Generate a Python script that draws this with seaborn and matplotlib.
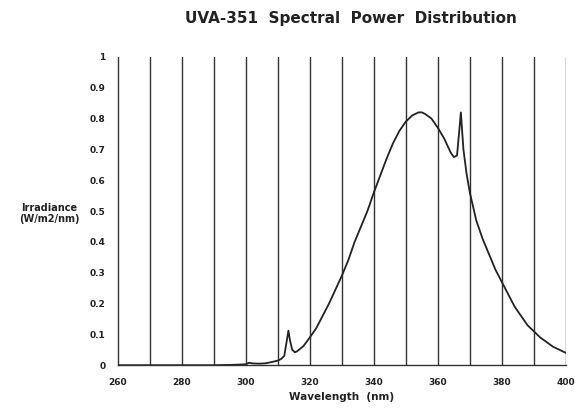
import numpy as np
import pandas as pd
import seaborn as sns
import matplotlib.pyplot as plt

# spectral data
wavelength = [260, 270, 280, 290, 295, 298, 300, 301, 302, 304, 306, 308, 310, 311, 312,
              312.8, 313.3, 313.8, 314.5, 315.3, 316, 318, 320, 322, 324, 326, 328, 330,
              332, 334, 336, 338, 340, 342, 344, 346, 348, 350, 352, 354, 355, 356, 358,
              360, 362, 364, 365, 366, 366.7, 367.2, 367.6, 368, 369, 370, 372, 374, 376,
              378, 380, 382, 384, 386, 388, 390, 392, 394, 396, 398, 400]
irradiance = [0, 0, 0, 0, 0.001, 0.002, 0.003, 0.008, 0.006, 0.005, 0.006, 0.01, 0.015, 0.02, 0.03,
              0.08, 0.112, 0.08, 0.05, 0.042, 0.045, 0.062, 0.09, 0.12, 0.16, 0.20, 0.245, 0.29,
              0.34, 0.40, 0.45, 0.50, 0.56, 0.615, 0.67, 0.72, 0.76, 0.79, 0.81, 0.82, 0.82, 0.815, 0.80,
              0.77, 0.735, 0.69, 0.675, 0.68, 0.76, 0.82, 0.76, 0.70, 0.62, 0.56, 0.47, 0.41, 0.36,
              0.31, 0.27, 0.23, 0.19, 0.16, 0.13, 0.11, 0.09, 0.075, 0.06, 0.05, 0.04]

x_ticks = [260, 280, 300, 320, 340, 360, 380, 400]
y_ticks = [0, 0.1, 0.2, 0.3, 0.4, 0.5, 0.6, 0.7, 0.8, 0.9, 1]
y_labels = ['0', '0.1', '0.2', '0.3', '0.4', '0.5', '0.6', '0.7', '0.8', '0.9', '1']

df = pd.DataFrame({'wavelength': wavelength, 'irradiance': irradiance})

sns.set_style('white')
plt.rcParams['font.family'] = ['DejaVu Sans']

fig = plt.figure(figsize=(5.75, 4.15), dpi=100)
ax = fig.add_axes([0.205, 0.12, 0.779, 0.743])

# vertical grid lines every 10 nm
for g in range(270, 401, 10):
    ax.axvline(g, color='#333333', lw=1.0, zorder=1)

sns.lineplot(data=df, x='wavelength', y='irradiance', ax=ax, color='#222222', lw=1.3, zorder=3)

ax.set_xlim(260, 400)
ax.set_ylim(0, 1)
ax.set_xticks(x_ticks)
ax.set_xticks(range(260, 401, 10), minor=True)
ax.set_yticks(y_ticks)
ax.set_yticklabels(y_labels)
ax.tick_params(axis='both', which='both', direction='out', length=4, width=0.8,
               color='#333333', labelsize=6.5, labelcolor='#222222')
ax.tick_params(axis='x', which='both', direction='inout', length=7, pad=6)
ax.tick_params(axis='y', pad=5)
for lab in ax.get_xticklabels() + ax.get_yticklabels():
    lab.set_fontweight('bold')

for side in ['top', 'right']:
    ax.spines[side].set_visible(False)
for side in ['left', 'bottom']:
    ax.spines[side].set_color('#333333')
    ax.spines[side].set_linewidth(1.0)

ax.set_xlabel('Wavelength  (nm)', fontsize=7.5, fontweight='bold', color='#222222', labelpad=3)
ax.set_ylabel('')
fig.text(0.085, 0.485, 'Irradiance\n(W/m2/nm)', ha='center', va='center', fontsize=7,
         fontweight='bold', color='#222222', linespacing=1.1)
fig.text(0.61, 0.955, 'UVA-351  Spectral  Power  Distribution', ha='center', va='center',
         fontsize=11, fontweight='bold', color='#222222')

fig.savefig('out.png', dpi=100)
